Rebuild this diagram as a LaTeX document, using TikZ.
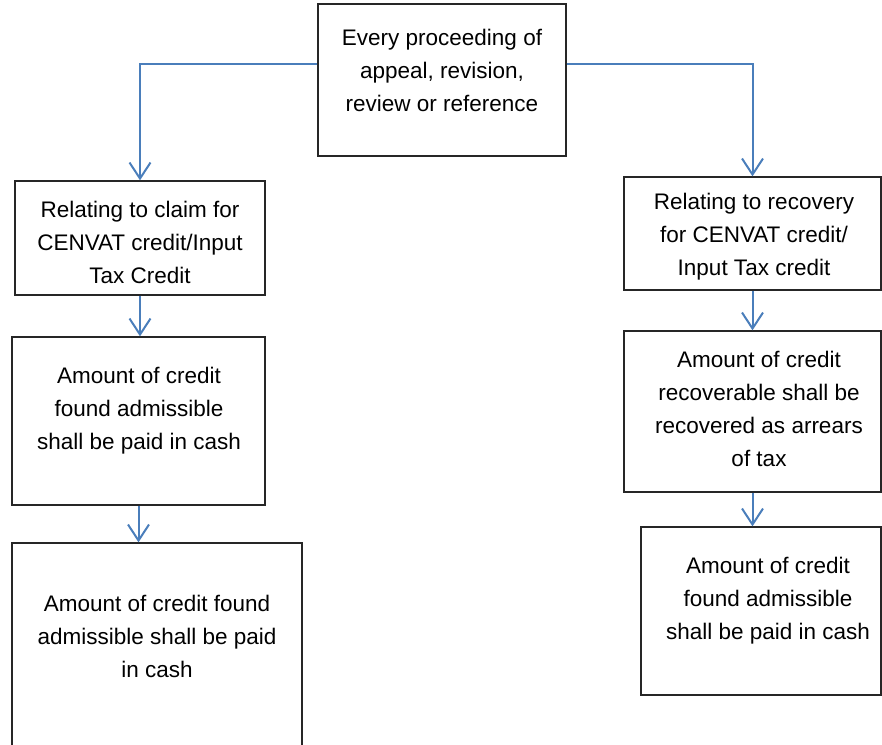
\documentclass[tikz,border=0pt]{standalone}
\usepackage{fontspec}
\setmainfont{Liberation Sans}
\usetikzlibrary{arrows.meta}
\usetikzlibrary{calc}
\definecolor{flowblue}{HTML}{4A7EBB}

\begin{document}
\begin{tikzpicture}[
    x=1pt, y=-1pt,
    box/.style={draw=black!85, line width=1.3pt, inner sep=0pt},
    flow/.style={draw=flowblue, line width=2pt, -{Straight Barb[length=16pt, width=21pt, line width=2pt]}},
    txt/.style={align=center, inner sep=0pt, font=\fontsize{22.5}{33}\selectfont},
    every node/.style={color=black}
    ]
   \useasboundingbox (0,0) rectangle (882,744);
   % boxes
   \node[box, minimum width=248pt, minimum height=152pt] (top) at (442,80) {};
   \node[box, minimum width=250pt, minimum height=114pt] (claim) at (140,238) {};
   \node[box, minimum width=253pt, minimum height=168pt] (paid) at (138.5,421) {};
   \node[box, minimum width=290pt, minimum height=218pt] (cash) at (157,652) {};
   \node[box, minimum width=257pt, minimum height=113pt] (recov) at (752.5,233.5) {};
   \node[box, minimum width=257pt, minimum height=161pt] (arrears) at (752.5,411.5) {};
   \node[box, minimum width=240pt, minimum height=168pt] (admis) at (761,611) {};
   % texts
   \node[txt] (top-t) at (442,70) {Every proceeding of\\appeal, revision,\\review or reference};
   \node[txt] (claim-t) at (140,242) {Relating to claim for\\CENVAT credit/Input\\Tax Credit};
   \node[txt] (paid-t) at (139,411) {Amount of credit\\found admissible\\shall be paid in cash};
   \node[txt] (cash-t) at (157,636) {Amount of credit found\\admissible shall be paid\\in cash};
   \node[txt] (recov-t) at (754,237) {Relating to recovery\\for CENVAT credit/\\Input Tax credit};
   \node[txt] (arrears-t) at (759,409) {Amount of credit\\recoverable shall be\\recovered as arrears\\of tax};
   \node[txt] (admis-t) at (768,601) {Amount of credit\\found admissible\\shall be paid in cash};
   % arrows
   \draw[flow] ([yshift=16pt]top.west) -| (claim.north);
   \draw[flow] ([yshift=16pt]top.east) -| (recov.north);
   \draw[flow] (claim.south) -- (claim.south |- paid.north);
   \draw[flow] (paid.south) -- (paid.south |- cash.north);
   \draw[flow] (recov.south) -- (arrears.north);
   \draw[flow] (arrears.south) -- (arrears.south |- admis.north);
\end{tikzpicture}
\end{document}
